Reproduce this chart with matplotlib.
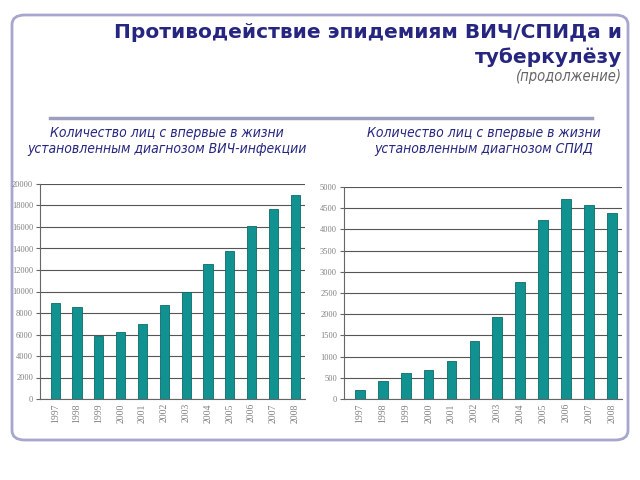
import matplotlib
matplotlib.use("Agg")
import matplotlib.pyplot as plt
from matplotlib.patches import FancyBboxPatch
from matplotlib.lines import Line2D

years = ["1997", "1998", "1999", "2000", "2001", "2002", "2003", "2004", "2005", "2006", "2007", "2008"]
hiv_values = [8900, 8580, 5850, 6220, 7000, 8740, 9950, 12540, 13780, 16110, 17700, 19000]
aids_values = [220, 425, 620, 680, 890, 1370, 1935, 2750, 4220, 4725, 4575, 4385]
hiv_ticks = list(range(0, 20001, 2000))
aids_ticks = list(range(0, 5001, 500))

title = "Противодействие эпидемиям ВИЧ/СПИДа и\nтуберкулёзу"
subtitle = "(продолжение)"
left_caption = "Количество лиц с впервые в жизни\nустановленным диагнозом ВИЧ-инфекции"
right_caption = "Количество лиц с впервые в жизни\nустановленным диагнозом СПИД"

W, H = 640, 480
fig = plt.figure(figsize=(6.4, 4.8), dpi=100)
fig.patch.set_facecolor("white")

# frame
frame = FancyBboxPatch((12 / W, (H - 440) / H), 616 / W, 425 / H,
                       boxstyle="round,pad=0,rounding_size=0.02",
                       transform=fig.transFigure, fill=False,
                       edgecolor="#a6a6cf", linewidth=2.0, zorder=-1)
fig.patches.append(frame)

navy = "#262680"
fig.text(622 / W, 1 - 45 / H, title, ha="right", va="center", fontsize=14.5,
         fontweight="bold", color=navy, family="DejaVu Sans", linespacing=1.35)
fig.text(622 / W, 1 - 77 / H, subtitle, ha="right", va="center", fontsize=10.5,
         style="italic", color="#666666", family="DejaVu Sans", stretch="condensed")

fig.add_artist(Line2D([50 / W, 592 / W], [1 - 118 / H, 1 - 118 / H],
                      transform=fig.transFigure, color="#9e9ebf", linewidth=2.5))

fig.text(167 / W, 1 - 141 / H, left_caption, ha="center", va="center", fontsize=10,
         style="italic", color=navy, family="DejaVu Sans", stretch="condensed",
         linespacing=1.1)
fig.text(484 / W, 1 - 141 / H, right_caption, ha="center", va="center", fontsize=10,
         style="italic", color=navy, family="DejaVu Sans", stretch="condensed",
         linespacing=1.1)

bar_color = "#129191"
edge_color = "#0b6b6b"


def draw(ax, values, ticks, width):
    x = range(len(years))
    ax.bar(x, values, width=width, color=bar_color, edgecolor=edge_color, linewidth=0.6, zorder=3)
    ax.set_ylim(ticks[0], ticks[-1])
    ax.set_yticks(ticks)
    ax.set_yticklabels([str(t) for t in ticks])
    ax.set_xlim(-0.7, len(years) - 0.55)
    ax.set_xticks(list(x))
    ax.set_xticklabels(years, rotation=90)
    ax.yaxis.grid(True, color="#555555", linewidth=0.8, zorder=0)
    for s in ["top", "right"]:
        ax.spines[s].set_visible(False)
    ax.spines["left"].set_color("#666666")
    ax.spines["bottom"].set_color("#666666")
    ax.tick_params(axis="y", labelsize=6, labelcolor="#808080", length=3, color="#666666", pad=2)
    ax.tick_params(axis="x", labelsize=7, labelcolor="#808080", length=0, pad=3)
    for lbl in ax.get_yticklabels() + ax.get_xticklabels():
        lbl.set_family("Liberation Serif")


ax1 = fig.add_axes([40 / W, 1 - 399 / H, 265 / W, 215 / H])
draw(ax1, hiv_values, hiv_ticks, 0.42)
ax2 = fig.add_axes([344 / W, 1 - 399 / H, 278 / W, 212 / H])
draw(ax2, aids_values, aids_ticks, 0.42)

fig.savefig("out.png", dpi=100)
